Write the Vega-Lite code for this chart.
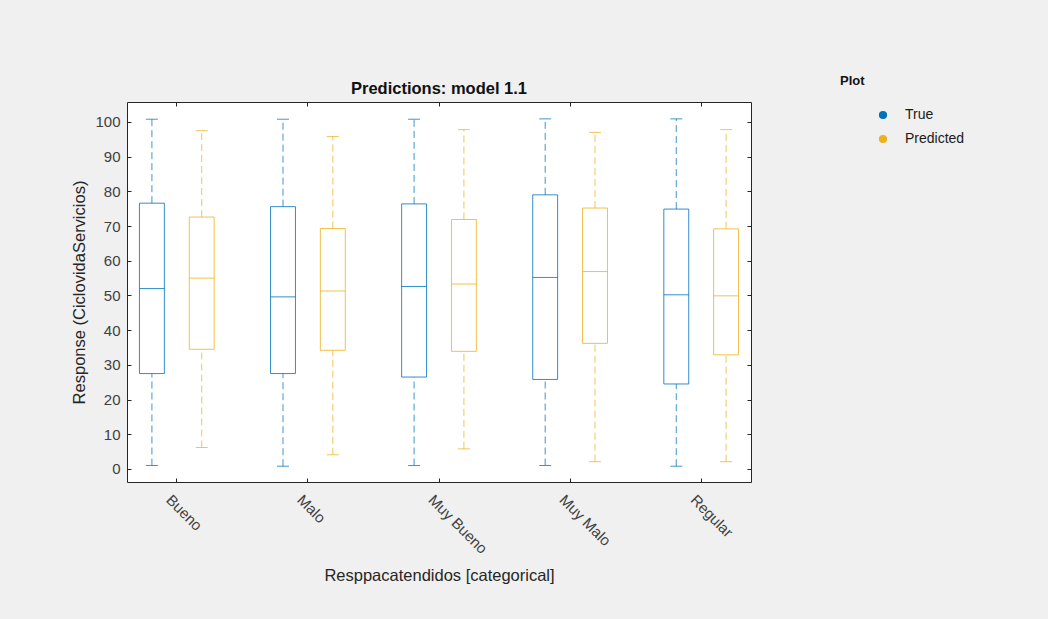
{
  "$schema": "https://vega.github.io/schema/vega-lite/v6.json",
  "width": 624,
  "height": 380,
  "autosize": {"type": "none"},
  "padding": {"left": 127, "top": 102, "right": 297, "bottom": 137},
  "background": "#f0f0f0",
  "config": {
    "font": "Liberation Sans",
    "view": {"fill": "white", "stroke": "#262626", "strokeWidth": 1},
    "axis": {
      "grid": false,
      "domain": false,
      "tickColor": "#262626",
      "tickSize": -4,
      "labelColor": "#404040",
      "labelFontSize": 15,
      "labelFont": "Liberation Sans",
      "titleColor": "#262626",
      "titleFontSize": 16.5,
      "titleFontWeight": "normal",
      "titleFont": "Liberation Sans"
    }
  },
  "title": {
    "text": "Predictions: model 1.1",
    "fontSize": 16.5,
    "fontWeight": "bold",
    "color": "#111111",
    "offset": 6,
    "dy": 28,
    "frame": "group",
    "anchor": "middle",
    "font": "Liberation Sans"
  },
  "data": {
    "values": [
      {"category": "Bueno", "series": "True", "min": 1.0, "q1": 27.5, "median": 52.0, "q3": 76.6, "max": 100.8},
      {"category": "Bueno", "series": "Predicted", "min": 6.2, "q1": 34.5, "median": 55.0, "q3": 72.6, "max": 97.5},
      {"category": "Malo", "series": "True", "min": 0.8, "q1": 27.5, "median": 49.6, "q3": 75.6, "max": 100.8},
      {"category": "Malo", "series": "Predicted", "min": 4.1, "q1": 34.2, "median": 51.3, "q3": 69.3, "max": 95.8},
      {"category": "Muy Bueno", "series": "True", "min": 1.0, "q1": 26.5, "median": 52.6, "q3": 76.4, "max": 100.8},
      {"category": "Muy Bueno", "series": "Predicted", "min": 5.8, "q1": 33.9, "median": 53.3, "q3": 71.9, "max": 97.8},
      {"category": "Muy Malo", "series": "True", "min": 1.0, "q1": 25.8, "median": 55.2, "q3": 79.0, "max": 100.9},
      {"category": "Muy Malo", "series": "Predicted", "min": 2.1, "q1": 36.2, "median": 56.9, "q3": 75.2, "max": 97.0},
      {"category": "Regular", "series": "True", "min": 0.8, "q1": 24.5, "median": 50.2, "q3": 74.9, "max": 100.9},
      {"category": "Regular", "series": "Predicted", "min": 2.1, "q1": 32.9, "median": 49.9, "q3": 69.2, "max": 97.8}
    ]
  },
  "encoding": {
    "x": {
      "field": "category",
      "type": "nominal",
      "sort": ["Bueno", "Malo", "Muy Bueno", "Muy Malo", "Regular"],
      "scale": {"paddingInner": 0.24, "paddingOuter": 0},
      "axis": null
    },
    "xOffset": {
      "field": "series",
      "type": "nominal",
      "sort": ["True", "Predicted"],
      "scale": {"paddingInner": 0.5, "paddingOuter": 0.25}
    },
    "color": {
      "field": "series",
      "type": "nominal",
      "sort": ["True", "Predicted"],
      "scale": {"domain": ["True", "Predicted"], "range": ["#0072BD", "#EDB120"]},
      "legend": {
        "title": "Plot",
        "orient": "none",
        "legendX": 713,
        "legendY": -27,
        "direction": "vertical",
        "padding": 0,
        "titleFont": "Liberation Sans",
        "titleFontSize": 13,
        "titleFontWeight": "bold",
        "titleColor": "#111111",
        "titlePadding": 20,
        "labelFont": "Liberation Sans",
        "labelFontSize": 14,
        "labelColor": "#1a1a1a",
        "symbolType": "circle",
        "symbolSize": 45,
        "symbolOffset": 36,
        "labelOffset": 15,
        "rowPadding": 10,
        "encode": {
          "symbols": {
            "update": {
              "fill": {"scale": "color", "field": "value"},
              "stroke": {"value": "transparent"},
              "fillOpacity": {"value": 1},
              "strokeOpacity": {"value": 1},
              "opacity": {"value": 1}
            }
          }
        }
      }
    }
  },
  "layer": [
    {
      "mark": {"type": "rule", "strokeDash": [7, 4], "strokeWidth": 1, "strokeOpacity": 0.75},
      "encoding": {
        "y": {"field": "q3", "type": "quantitative", "scale": {"domain": [-3.75, 105.76], "nice": false, "zero": false}, "axis": null},
        "y2": {"field": "max"}
      }
    },
    {
      "mark": {"type": "rule", "strokeDash": [7, 4], "strokeWidth": 1, "strokeOpacity": 0.75},
      "encoding": {
        "y": {"field": "min", "type": "quantitative", "scale": {"domain": [-3.75, 105.76], "nice": false, "zero": false}, "axis": null},
        "y2": {"field": "q1"}
      }
    },
    {
      "mark": {"type": "tick", "size": 12, "thickness": 1, "fillOpacity": 0.75},
      "encoding": {
        "y": {"field": "max", "type": "quantitative", "scale": {"domain": [-3.75, 105.76], "nice": false, "zero": false}, "axis": null}
      }
    },
    {
      "mark": {"type": "tick", "size": 12, "thickness": 1, "fillOpacity": 0.75},
      "encoding": {
        "y": {"field": "min", "type": "quantitative", "scale": {"domain": [-3.75, 105.76], "nice": false, "zero": false}, "axis": null}
      }
    },
    {
      "mark": {"type": "bar", "filled": false, "strokeWidth": 1, "strokeOpacity": 0.8},
      "encoding": {
        "x": {
          "field": "category",
          "type": "nominal",
          "sort": ["Bueno", "Malo", "Muy Bueno", "Muy Malo", "Regular"],
          "scale": {"paddingInner": 0.24, "paddingOuter": 0},
          "axis": {
            "orient": "bottom",
            "title": "Resppacatendidos [categorical]",
            "labelAngle": 45,
            "labelAlign": "left",
            "labelBaseline": "middle",
            "labelOffset": -8,
            "labelPadding": 19,
            "titlePadding": 11
          }
        },
        "y": {
          "field": "q1",
          "type": "quantitative",
          "scale": {"domain": [-3.75, 105.76], "nice": false, "zero": false},
          "axis": {
            "orient": "left",
            "title": "Response (CiclovidaServicios)",
            "values": [0, 10, 20, 30, 40, 50, 60, 70, 80, 90, 100],
            "labelPadding": 11,
            "titlePadding": 7
          }
        },
        "y2": {"field": "q3"}
      }
    },
    {
      "mark": {"type": "tick", "size": 25, "thickness": 1, "fillOpacity": 0.8},
      "encoding": {
        "x": {
          "field": "category",
          "type": "nominal",
          "sort": ["Bueno", "Malo", "Muy Bueno", "Muy Malo", "Regular"],
          "scale": {"paddingInner": 0.24, "paddingOuter": 0},
          "axis": {"orient": "top", "labels": false, "title": null}
        },
        "y": {
          "field": "median",
          "type": "quantitative",
          "scale": {"domain": [-3.75, 105.76], "nice": false, "zero": false},
          "axis": {"orient": "right", "labels": false, "title": null, "values": [0, 10, 20, 30, 40, 50, 60, 70, 80, 90, 100]}
        }
      }
    }
  ],
  "resolve": {"axis": {"x": "independent", "y": "independent"}}
}
